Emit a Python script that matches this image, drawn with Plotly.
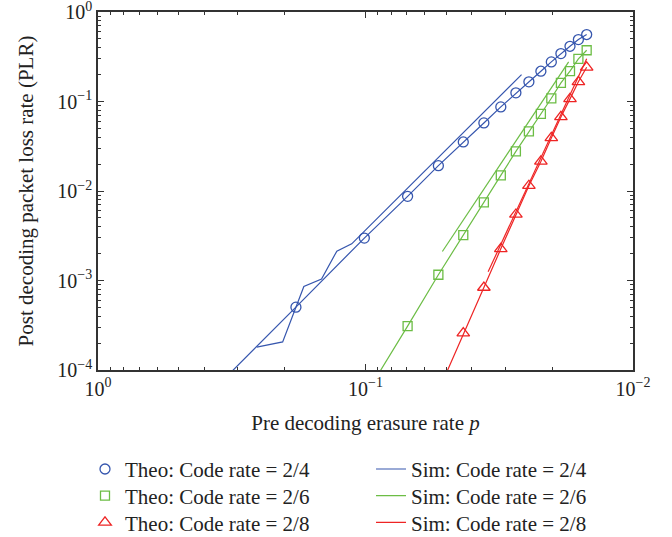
import plotly.graph_objects as go

# ---------------- data ----------------
p_theo = [0.0149, 0.0160, 0.0172, 0.0186, 0.0202, 0.0221, 0.0245, 0.0274,
          0.0312, 0.0361, 0.0431, 0.0534, 0.0696, 0.101, 0.182]
theo_24 = [0.560, 0.492, 0.414, 0.343, 0.277, 0.218, 0.166, 0.125,
           0.0870, 0.0576, 0.0353, 0.0192, 0.00871, 0.00298, 0.000504]
theo_26 = [0.374, 0.300, 0.218, 0.1615, 0.1086, 0.0727, 0.0464, 0.0277,
           0.01494, 0.00746, 0.00322, 0.00116, 0.000309]
theo_28 = [0.241, 0.166, 0.107, 0.0673, 0.0392, 0.0214, 0.01146, 0.00547,
           0.00226, 0.000835, 0.000258]
# theoretical curves continue below the visible range
tail_p = {"2/4": 0.35, "2/6": 0.101, "2/8": 0.0534}
tail_v = {"2/4": 7.1e-5, "2/6": 5.0e-5, "2/8": 5.8e-5}

sim_p_24 = [0.255, 0.204, 0.170, 0.146, 0.128, 0.1126, 0.0261]
sim_24 = [1.80e-4, 2.06e-4, 8.57e-4, 1.04e-3, 2.13e-3, 2.57e-3, 0.200]
sim_p_26 = [0.0516, 0.0174]
sim_26 = [0.00211, 0.277]
sim_p_28 = [0.0348, 0.0149]
sim_28 = [0.00125, 0.300]

code_rates = ["2/4", "2/6", "2/8"]

x_tickvals = [1, 0.1, 0.01]
x_ticktext = ["10<sup>0</sup>", "10<sup>\u22121</sup>", "10<sup>\u22122</sup>"]
y_tickvals = [1, 0.1, 0.01, 0.001, 0.0001]
y_ticktext = ["10<sup>0</sup>", "10<sup>\u22121</sup>", "10<sup>\u22122</sup>",
              "10<sup>\u22123</sup>", "10<sup>\u22124</sup>"]

BLUE = "#3656ae"
GREEN = "#6cbd45"
RED = "#ee2424"
FONT = "Liberation Serif"
TXT = "#222222"

theo_vals = {"2/4": theo_24, "2/6": theo_26, "2/8": theo_28}
sim_x = {"2/4": sim_p_24, "2/6": sim_p_26, "2/8": sim_p_28}
sim_y = {"2/4": sim_24, "2/6": sim_26, "2/8": sim_28}
colors = {"2/4": BLUE, "2/6": GREEN, "2/8": RED}
symbols = {"2/4": ("circle-open", 10), "2/6": ("square-open", 9),
           "2/8": ("triangle-up-open", 11)}

fig = go.Figure()
for name in code_rates:
    tv = theo_vals[name]
    n = len(tv)
    fig.add_trace(go.Scatter(
        x=p_theo[:n] + [tail_p[name]], y=tv + [tail_v[name]], mode="lines",
        line=dict(color=colors[name], width=1.2), showlegend=False,
        hoverinfo="skip"))

for i, name in enumerate(code_rates):
    tv = theo_vals[name]
    n = len(tv)
    sym, ms = symbols[name]
    col = colors[name]
    fig.add_trace(go.Scatter(
        x=p_theo[:n], y=tv, mode="markers", name=f"Theo: Code rate = {name}",
        legend="legend" if i == 0 else f"legend{i + 1}",
        marker=dict(symbol=sym, size=ms, color=col, line=dict(color=col, width=1.3))))
for i, name in enumerate(code_rates):
    fig.add_trace(go.Scatter(
        x=sim_x[name], y=sim_y[name], mode="lines", name=f"Sim: Code rate = {name}",
        legend=f"legend{i + 4}",
        line=dict(color=colors[name], width=1.2)))

minor_vals = [k * 10 ** e for e in (-4, -3, -2, -1) for k in range(2, 10)]

axis_common = dict(
    type="log", showgrid=False, zeroline=False, automargin=False,
    showline=True, linecolor="#333333", linewidth=1.5, mirror="allticks",
    ticks="inside", ticklen=6, tickwidth=1.2, tickcolor="#333333",
    ticklabeloverflow="allow",
    tickfont=dict(family=FONT, size=20, color=TXT),
    minor=dict(ticks="inside", ticklen=3, tickwidth=1, tickcolor="#333333",
               tickvals=minor_vals, showgrid=False),
)

fig.update_xaxes(
    **axis_common, range=[0, -2], tickvals=x_tickvals, ticktext=x_ticktext,
    title=dict(text="Pre decoding erasure rate <i>p</i>",
               font=dict(family=FONT, size=21, color=TXT), standoff=17),
)
fig.update_yaxes(
    **axis_common, range=[-4, 0], tickvals=y_tickvals, ticktext=y_ticktext,
    title=dict(text="Post decoding packet loss rate (PLR)",
               font=dict(family=FONT, size=21, color=TXT), standoff=18),
)

row_y = [-0.2202, -0.2946, -0.3692]
col_x = [-0.0243, 0.5103]


def leg(x, y):
    return dict(orientation="v", xanchor="left", yanchor="top", x=x, y=y,
                itemwidth=30, font=dict(family=FONT, size=21, color=TXT),
                bgcolor="rgba(0,0,0,0)", borderwidth=0)


legends = {}
for c in range(2):
    for r in range(3):
        k = c * 3 + r + 1
        key = "legend" if k == 1 else f"legend{k}"
        legends[key] = leg(col_x[c], row_y[r])

fig.update_layout(
    width=672, height=537,
    margin=dict(l=98, r=39, t=12, b=167, autoexpand=False),
    paper_bgcolor="white", plot_bgcolor="white",
    font=dict(family=FONT, size=20, color=TXT),
    **legends,
)

fig.write_html("out.html",
               config={"displayModeBar": False},
               post_script="document.body.style.margin='0px';")
